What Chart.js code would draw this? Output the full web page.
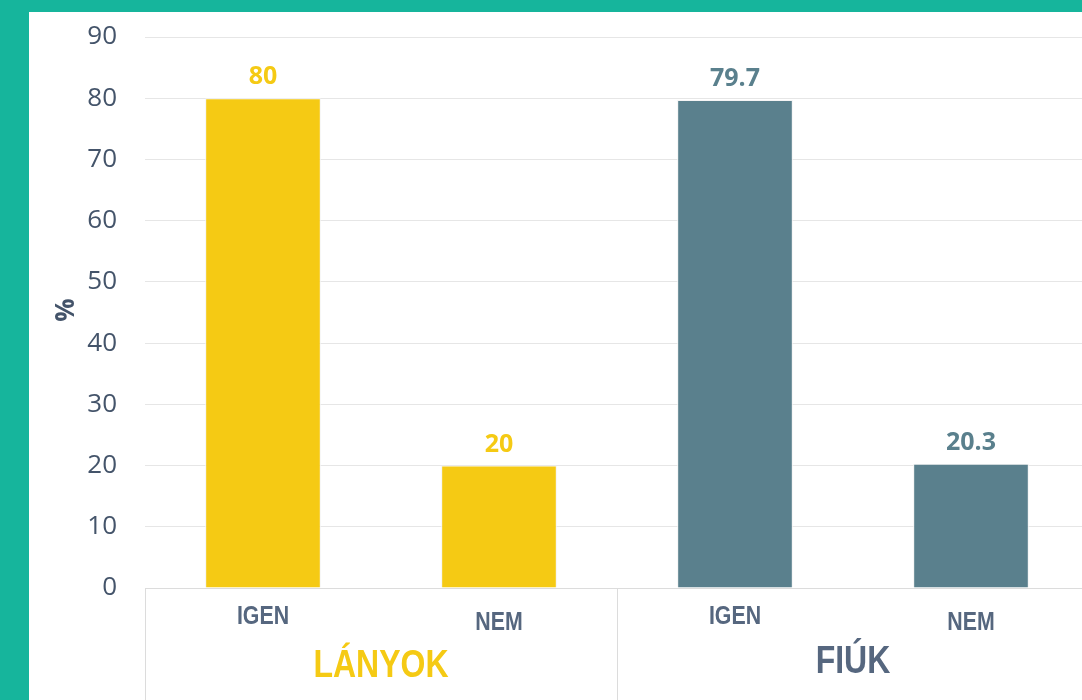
<!DOCTYPE html>
<html>
<head>
<meta charset="utf-8">
<script src="https://cdn.jsdelivr.net/npm/chart.js@4"></script>
<style>
  html, body { margin: 0; padding: 0; width: 1082px; height: 700px; overflow: hidden; background: #16b59c; }
  #wrap { position: absolute; left: 29px; top: 12px; width: 1070px; height: 688px; background: #fff; }
</style>
</head>
<body>
<div id="wrap"><canvas id="bar_survey"></canvas></div>
<script>
const groups = ["LÁNYOK", "FIÚK"];
const answers = ["IGEN", "NEM"];
const girls = [80, 20];
const boys = [79.7, 20.3];
const yTicks = [0, 10, 20, 30, 40, 50, 60, 70, 80, 90];

const yellow = "#f5ca14";
const slate = "#5a808d";
const textGrey = "#44546a";
const labelGrey = "#56677f";

const labels = answers.concat(answers);
const values = girls.concat(boys);
const colors = [yellow, yellow, slate, slate];

// no narrow font installed, so squeeze a normal one
function narrowText(ctx, text, x, y) {
    ctx.save();
    ctx.translate(x, y);
    ctx.scale(0.82, 1);
    ctx.fillText(text, 0, 0);
    ctx.restore();
}

const drawExtras = {
    id: "drawExtras",
    afterDraw(chart) {
        const ctx = chart.ctx;
        const xs = chart.scales.x;
        const ys = chart.scales.y;
        const area = chart.chartArea;
        const base = ys.getPixelForValue(0);
        const catW = (area.right - area.left) / labels.length;
        ctx.save();

        // axis line + group separators
        ctx.strokeStyle = "#dcdcdc";
        ctx.lineWidth = 1;
        ctx.beginPath();
        ctx.moveTo(area.left, base + 0.5);
        ctx.lineTo(area.right, base + 0.5);
        for (let g = 0; g <= groups.length; g++) {
            const bx = Math.round(xs.getPixelForValue(g * 2) - catW / 2) + 0.5;
            ctx.moveTo(bx, base);
            ctx.lineTo(bx, chart.height);
        }
        ctx.stroke();

        // category labels (staggered like the original)
        ctx.textAlign = "center";
        ctx.textBaseline = "middle";
        ctx.fillStyle = labelGrey;
        ctx.font = "bold 26px 'Liberation Sans', Arial, sans-serif";
        labels.forEach((l, i) => {
            narrowText(ctx, l, xs.getPixelForValue(i), base + (i % 2 ? 35 : 29));
        });

        // group labels
        ctx.font = "bold 39px 'Liberation Sans', Arial, sans-serif";
        groups.forEach((g, i) => {
            const cx = (xs.getPixelForValue(i * 2) + xs.getPixelForValue(i * 2 + 1)) / 2;
            ctx.fillStyle = i === 0 ? yellow : labelGrey;
            narrowText(ctx, g, cx, base + (i === 0 ? 78 : 74));
        });

        // value labels
        ctx.font = "bold 25px 'Open Sans', sans-serif";
        ctx.textBaseline = "alphabetic";
        chart.getDatasetMeta(0).data.forEach((bar, i) => {
            ctx.fillStyle = colors[i];
            ctx.fillText(String(values[i]), bar.x, bar.y - 14);
        });

        // y title
        ctx.translate(38, 298);
        ctx.rotate(-Math.PI / 2);
        ctx.fillStyle = textGrey;
        ctx.font = "bold 26px 'Open Sans', sans-serif";
        ctx.textBaseline = "middle";
        ctx.fillText("%", 0, 0);
        ctx.restore();
    }
};

const config_survey = {
    type: "bar",
    data: {
        labels: labels,
        datasets: [{
            data: values,
            backgroundColor: colors,
            borderColor: "#f4f4f4",
            borderWidth: 1,
            barPercentage: 0.49,
            categoryPercentage: 1
        }]
    },
    options: {
        responsive: true,
        maintainAspectRatio: false,
        animation: false,
        layout: { padding: { top: 25, right: 10, bottom: 112, left: 0 } },
        plugins: { legend: { display: false }, tooltip: { enabled: false } },
        scales: {
            x: {
                grid: { display: false },
                border: { display: false },
                ticks: { display: false },
                afterFit: s => { s.height = 0; }
            },
            y: {
                min: 0,
                max: 90,
                afterBuildTicks: s => { s.ticks = yTicks.map(v => ({ value: v })); },
                afterFit: s => { s.width = 116; s.paddingTop = 0; s.paddingBottom = 0; },
                grid: { color: "#e6e6e6", drawTicks: false },
                border: { display: false },
                ticks: {
                    padding: 28,
                    color: textGrey,
                    font: { family: "'Open Sans', sans-serif", size: 26 }
                }
            }
        }
    },
    plugins: [drawExtras]
};

const ctx_survey = document.getElementById("bar_survey").getContext("2d");
const myChart_survey = new Chart(ctx_survey, config_survey);
</script>
</body>
</html>
